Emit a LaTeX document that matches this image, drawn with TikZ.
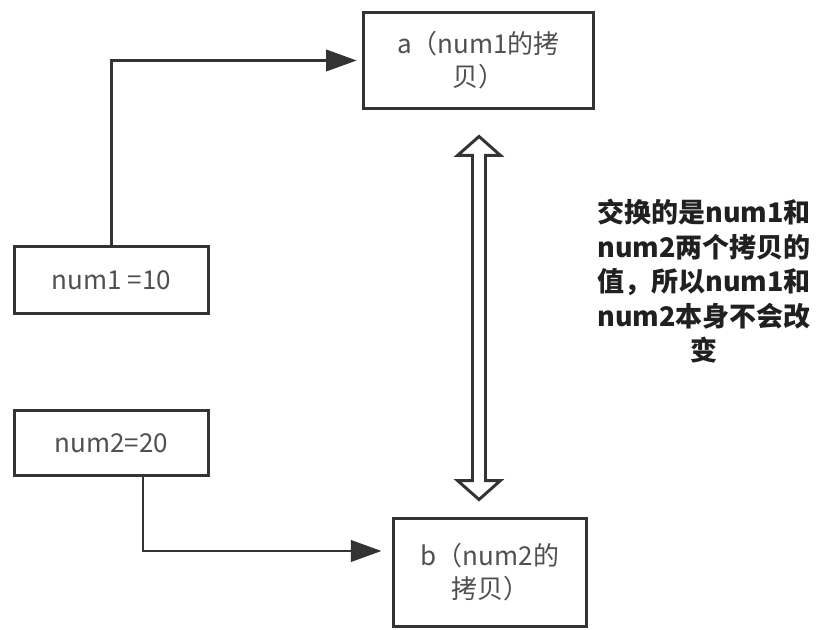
\documentclass[tikz,border=0pt]{standalone}
\usepackage{fontspec}
\setmainfont{Noto Sans CJK SC}
\usetikzlibrary{arrows.meta,calc}
\definecolor{lineclr}{HTML}{333333}
\definecolor{boxtxt}{HTML}{505050}
\definecolor{notetxt}{HTML}{202020}
\tikzset{
  box/.style={draw=lineclr, line width=2.2pt, fill=white, inner sep=0pt,
    align=center, text=boxtxt, font=\fontsize{19.5pt}{24.75pt}\selectfont},
  conn/.style={draw=lineclr, line width=2.2pt,
    -{Triangle[length=23pt,width=16pt]}},
  dbl/.style={draw=lineclr, line width=2.2pt, fill=white, line join=miter},
  note/.style={align=center, text=notetxt, inner sep=0pt,
    font=\fontsize{20.25pt}{25.9pt}\selectfont\bfseries}
}
\begin{document}
\begin{tikzpicture}[x=0.75pt,y=-0.75pt]
\useasboundingbox (0,0) rectangle (824,630);
\node[box, minimum width=172.5pt, minimum height=72pt] (a) at (478.5,60.5) {a（num1的拷\\贝）};
\node[box, minimum width=144.75pt, minimum height=81pt] (b) at (490,572.5) {b（num2的\\拷贝）};
\node[box, minimum width=145.5pt, minimum height=50.25pt] (n1) at (111.5,280) {num1 =10};
\node[box, minimum width=145.5pt, minimum height=48.75pt] (n2) at (111.5,443) {num2=20};
\node[note] (txt) at (704,281.5) {交换的是num1和\\num2两个拷贝的\\值，所以num1和\\num2本身不会改\\变};
% connectors
\draw[conn, shorten >=4pt] (n1.north) |- (a.west);
\coordinate (n2out) at ($(n2.south)+(31.5,0)$);
\coordinate (bin) at ($(b.west)+(-10.5,-21.5)$);
\draw[conn] (n2out) |- (bin);
% hollow double arrow between a and b
\coordinate (t) at ($(a.south)+(0.5,26.5)$);
\coordinate (u) at ($(t |- b.north)+(0,-17.5)$);
\draw[dbl] (t) -- ($(t)+(21.5,19)$) -- ($(t)+(6.5,19)$) -- ($(u)+(6.5,-19)$)
  -- ($(u)+(21.5,-19)$) -- (u) -- ($(u)+(-21.5,-19)$) -- ($(u)+(-6.5,-19)$)
  -- ($(t)+(-6.5,19)$) -- ($(t)+(-21.5,19)$) -- cycle;
\end{tikzpicture}
\end{document}
